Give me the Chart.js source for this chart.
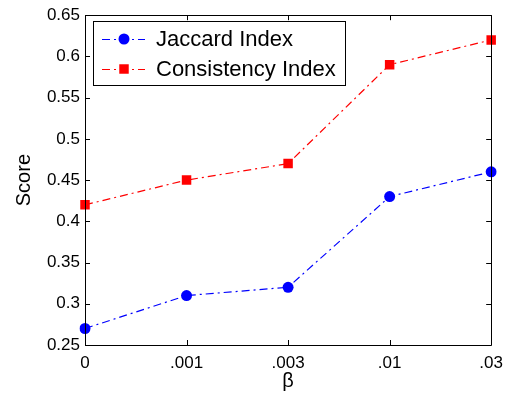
<!DOCTYPE html>
<html>
<head>
<meta charset="utf-8">
<script src="https://cdn.jsdelivr.net/npm/chart.js@4/dist/chart.umd.min.js"></script>
<style>
html,body{margin:0;padding:0;background:#fff;}
#wrap{width:511px;height:397px;position:relative;}
</style>
</head>
<body>
<div id="wrap"><canvas id="c" width="511" height="397"></canvas></div>
<script>
const categories = ['0', '.001', '.003', '.01', '.03'];
const jaccard = [0.27, 0.31, 0.32, 0.43, 0.46];
const consistency = [0.42, 0.45, 0.47, 0.59, 0.62];
const yTicks = [0.25, 0.3, 0.35, 0.4, 0.45, 0.5, 0.55, 0.6, 0.65];
const seriesNames = ['Jaccard Index', 'Consistency Index'];
const FONT = "'Liberation Sans', Arial, Helvetica, sans-serif";

const boxPlugin = {
  id: 'boxPlugin',
  afterDatasetsDraw(chart) {
    const ctx = chart.ctx;
    const a = chart.chartArea;
    const xs = chart.scales.x, ys = chart.scales.y;
    ctx.save();
    ctx.strokeStyle = '#000';
    ctx.lineWidth = 1;
    ctx.beginPath();
    ctx.rect(Math.round(a.left) + 0.5, Math.round(a.top) + 0.5, Math.round(a.right - a.left), Math.round(a.bottom - a.top));
    ctx.stroke();
    const tl = 5;
    ctx.beginPath();
    categories.forEach((c, i) => {
      const x = Math.round(xs.getPixelForValue(i)) + 0.5;
      ctx.moveTo(x, a.bottom); ctx.lineTo(x, a.bottom - tl);
      ctx.moveTo(x, a.top); ctx.lineTo(x, a.top + tl);
    });
    yTicks.forEach(v => {
      const y = Math.round(ys.getPixelForValue(v)) + 0.5;
      ctx.moveTo(a.left, y); ctx.lineTo(a.left + tl, y);
      ctx.moveTo(a.right, y); ctx.lineTo(a.right - tl, y);
    });
    ctx.stroke();

    // legend
    const lx = 93.5, ly = 21.5, lw = 252, lh = 64;
    ctx.fillStyle = '#fff';
    ctx.fillRect(lx, ly, lw, lh);
    ctx.strokeStyle = '#000';
    ctx.strokeRect(lx, ly, lw, lh);
    const rows = [39, 69];
    chart.data.datasets.forEach((ds, i) => {
      const y = rows[i] + 0.5;
      ctx.save();
      ctx.strokeStyle = ds.borderColor;
      ctx.lineWidth = ds.borderWidth;
      ctx.setLineDash(ds.borderDash);
      ctx.beginPath();
      ctx.moveTo(102, y); ctx.lineTo(145, y);
      ctx.stroke();
      ctx.restore();
      ctx.fillStyle = ds.pointBackgroundColor;
      ctx.beginPath();
      if (ds.pointStyle === 'circle') {
        ctx.arc(124, rows[i], ds.pointRadius, 0, Math.PI * 2);
      } else {
        const s = ds.pointRadius * Math.SQRT1_2;
        ctx.rect(124 - s, rows[i] - s, 2 * s, 2 * s);
      }
      ctx.fill();
      ctx.fillStyle = '#000';
      ctx.font = '22px ' + FONT;
      ctx.textBaseline = 'middle';
      ctx.textAlign = 'left';
      ctx.fillText(ds.label, 156, rows[i] + 1);
    });
    ctx.restore();
  }
};

new Chart(document.getElementById('c'), {
  type: 'line',
  data: {
    labels: categories,
    datasets: [
      {
        label: seriesNames[0], data: jaccard,
        borderColor: '#0000ff', backgroundColor: '#0000ff',
        pointBackgroundColor: '#0000ff', pointBorderColor: '#0000ff',
        borderWidth: 1.2, borderDash: [8, 4, 2, 4],
        pointStyle: 'circle', pointRadius: 5.5, pointBorderWidth: 0,
        tension: 0, fill: false
      },
      {
        label: seriesNames[1], data: consistency,
        borderColor: '#ff0000', backgroundColor: '#ff0000',
        pointBackgroundColor: '#ff0000', pointBorderColor: '#ff0000',
        borderWidth: 1.2, borderDash: [8, 4, 2, 4],
        pointStyle: 'rect', pointRadius: 6.7, pointBorderWidth: 0,
        tension: 0, fill: false
      }
    ]
  },
  options: {
    responsive: false,
    animation: false,
    devicePixelRatio: 1,
    layout: { padding: { left: 0, top: 15, right: 16, bottom: 0 } },
    plugins: { legend: { display: false }, tooltip: { enabled: false } },
    scales: {
      x: {
        type: 'category',
        offset: false,
        grid: { display: false, drawTicks: false },
        border: { display: false },
        ticks: { color: '#000', font: { family: FONT, size: 17 }, padding: 8, maxRotation: 0, autoSkip: false },
        title: { display: true, text: 'β', color: '#000', font: { family: FONT, size: 20 }, padding: { top: 0, bottom: 4 } },
        afterFit(s) { s.height = 52; }
      },
      y: {
        min: 0.25, max: 0.65,
        grid: { display: false, drawTicks: false },
        border: { display: false },
        afterBuildTicks(s) { s.ticks = yTicks.map(v => ({ value: v })); },
        ticks: {
          color: '#000', font: { family: FONT, size: 17 }, padding: 5,
          callback: v => String(parseFloat(Number(v).toFixed(2)))
        },
        title: { display: true, text: 'Score', color: '#000', font: { family: FONT, size: 20 }, padding: { top: 12, bottom: 0 } },
        afterFit(s) { s.width = 85; }
      }
    }
  },
  plugins: [boxPlugin]
});
</script>
</body>
</html>
